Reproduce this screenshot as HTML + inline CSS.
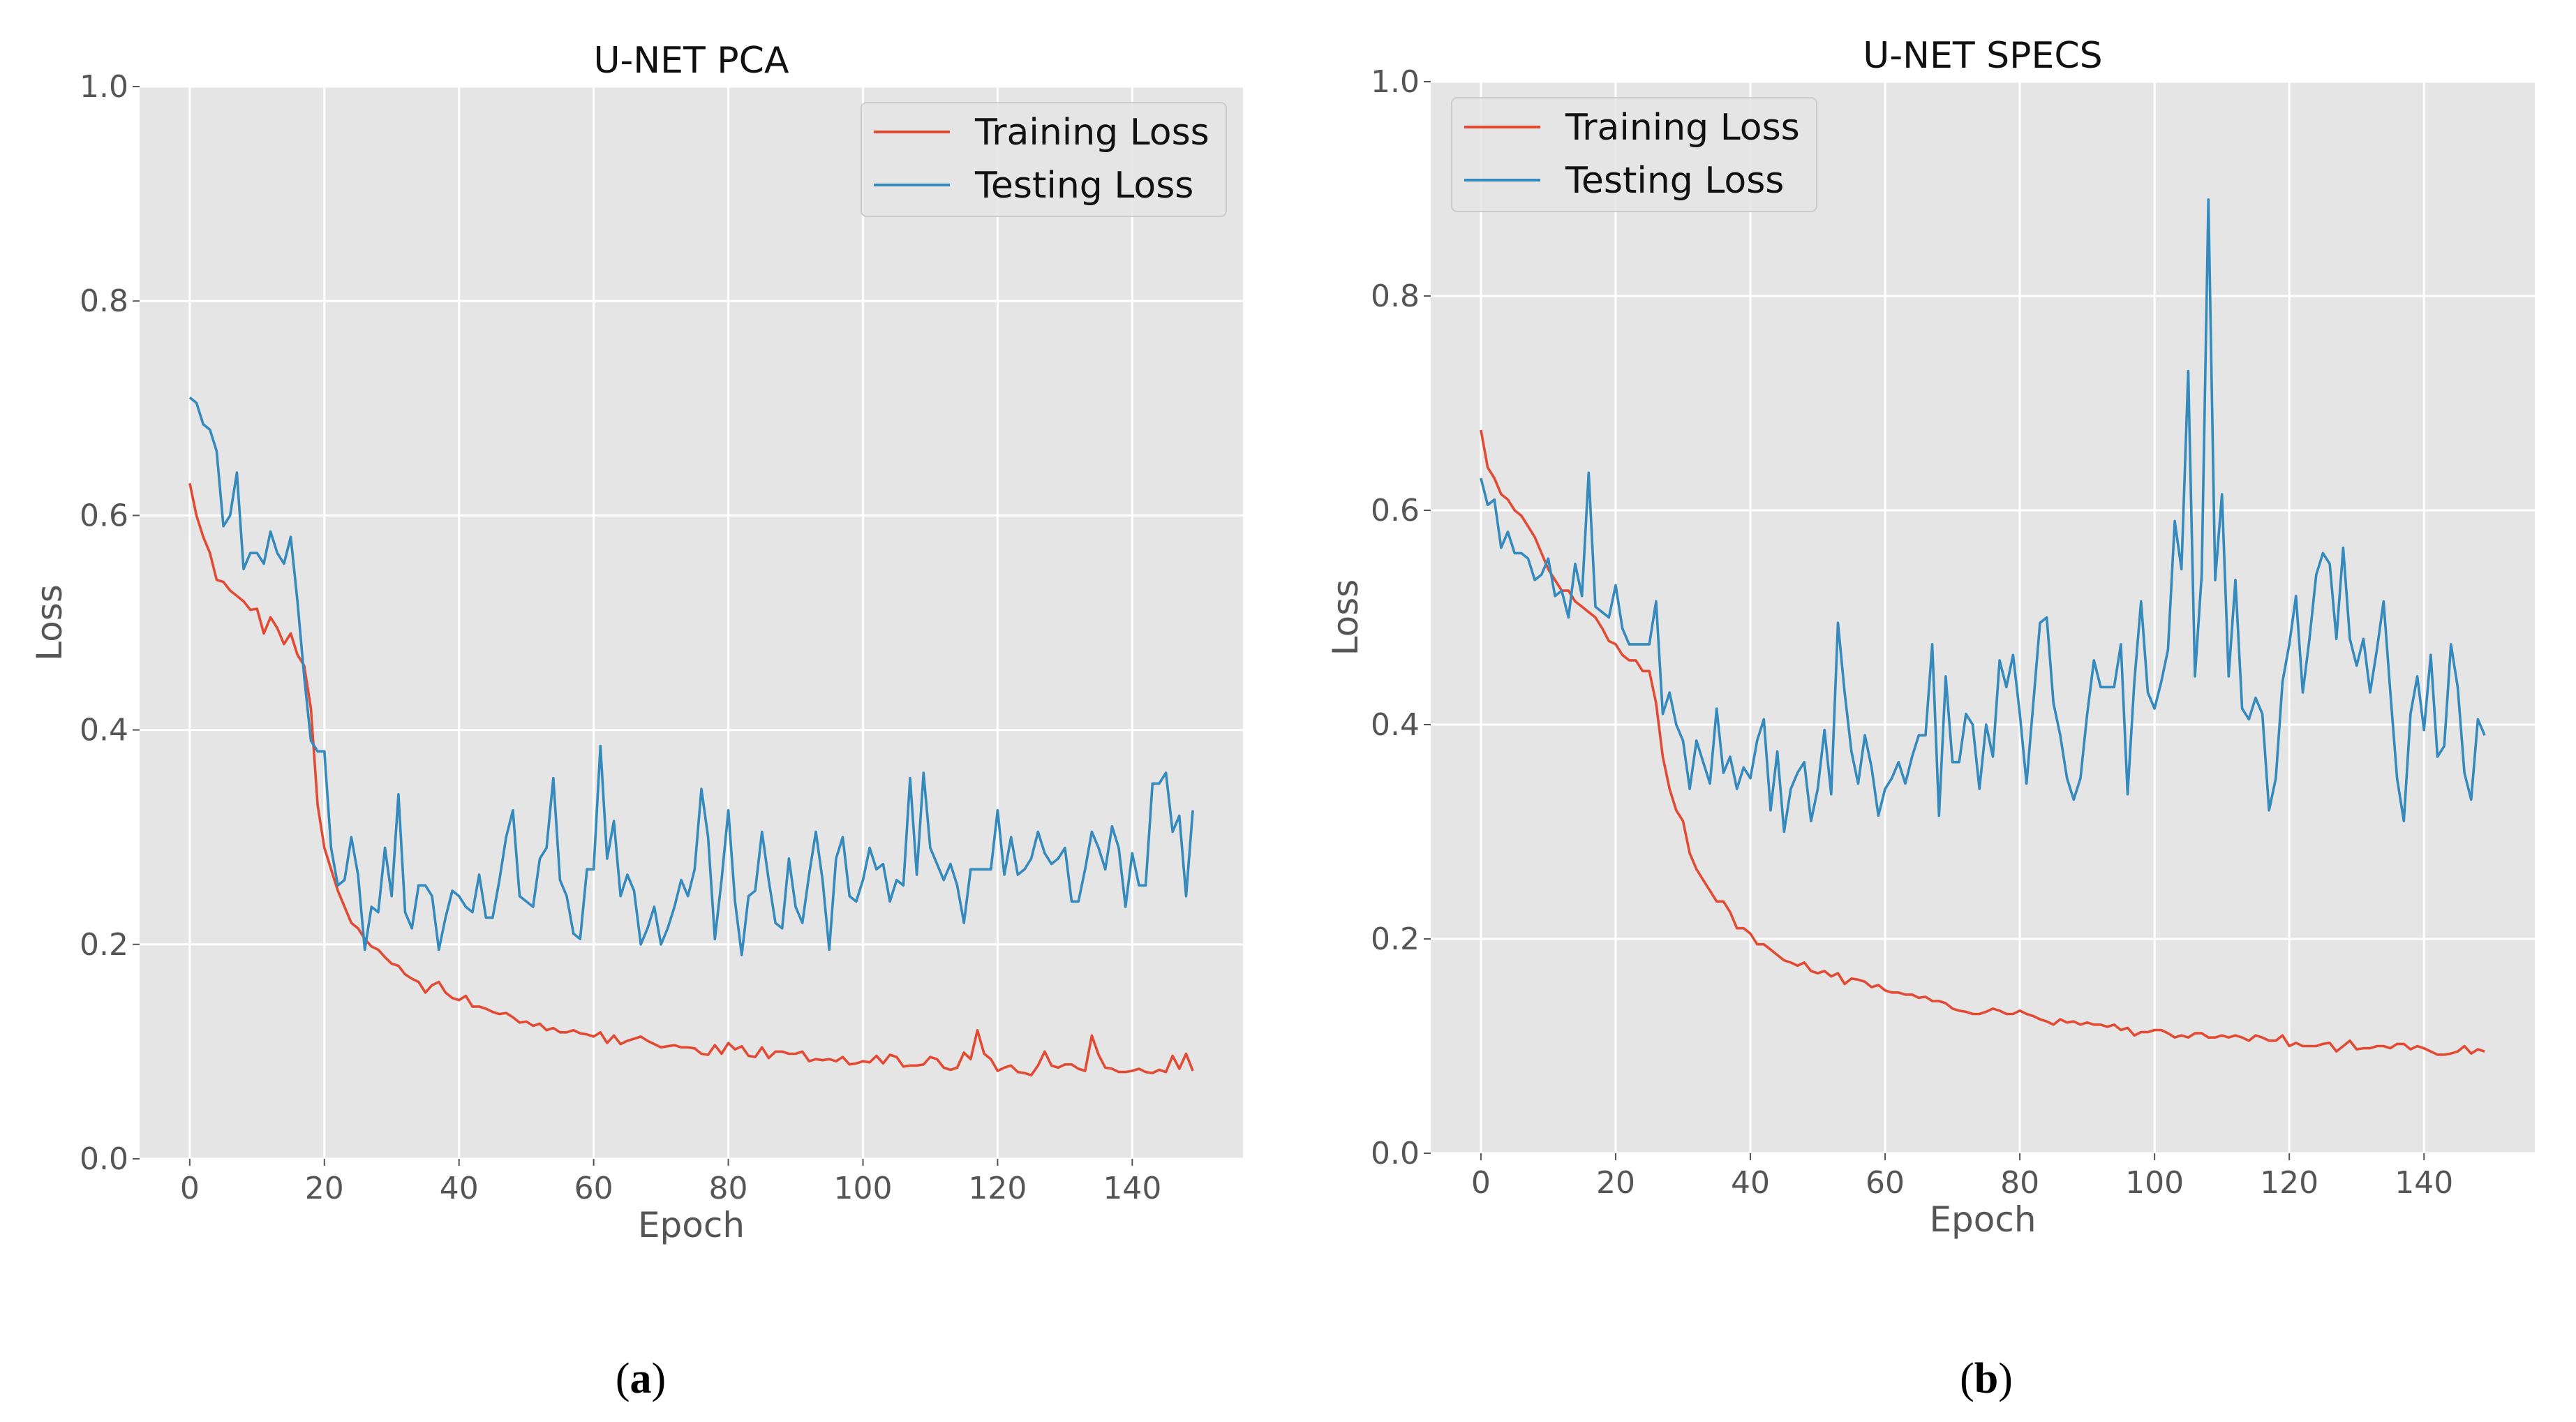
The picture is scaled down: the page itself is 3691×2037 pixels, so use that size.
<!DOCTYPE html>
<html><head><meta charset="utf-8">
<style>
html,body{margin:0;padding:0;background:#fff;}
svg{display:block;}
text{font-family:"DejaVu Sans","Liberation Sans",sans-serif;}
</style></head>
<body>
<svg id="fig" width="3691" height="2037" viewBox="0 0 3691 2037" xmlns="http://www.w3.org/2000/svg">
<rect width="3691" height="2037" fill="#ffffff"/>
<g id="chartA"></g>
<g id="chartB"></g>
<text x="918" y="1995" text-anchor="middle" font-size="62" style="font-family:'Liberation Serif',serif">(<tspan font-weight="bold">a</tspan>)</text>
<text x="2846" y="1995" text-anchor="middle" font-size="62" style="font-family:'Liberation Serif',serif">(<tspan font-weight="bold">b</tspan>)</text>
</svg>
<script>
const xTicks=[0,20,40,60,80,100,120,140];
const yTicks=[0.0,0.2,0.4,0.6,0.8,1.0];
const yTickLabels=["0.0","0.2","0.4","0.6","0.8","1.0"];
const seriesNames=["Training Loss","Testing Loss"];
const trainA=[0.63,0.60,0.58,0.565,0.54,0.538,0.53,0.525,0.52,0.512,0.513,0.49,0.505,0.495,0.48,0.49,0.47,0.46,0.42,0.33,0.29,0.27,0.25,0.235,0.22,0.215,0.205,0.198,0.195,0.188,0.182,0.18,0.172,0.168,0.165,0.155,0.162,0.165,0.155,0.15,0.148,0.152,0.142,0.142,0.14,0.137,0.135,0.136,0.132,0.127,0.128,0.124,0.126,0.12,0.122,0.118,0.118,0.12,0.117,0.116,0.114,0.118,0.108,0.115,0.107,0.11,0.112,0.114,0.11,0.107,0.104,0.105,0.106,0.104,0.104,0.103,0.098,0.097,0.106,0.098,0.108,0.102,0.105,0.096,0.095,0.104,0.094,0.1,0.1,0.098,0.098,0.1,0.091,0.093,0.092,0.093,0.091,0.095,0.088,0.089,0.091,0.09,0.096,0.089,0.097,0.095,0.086,0.087,0.087,0.088,0.095,0.093,0.085,0.083,0.085,0.099,0.093,0.12,0.098,0.093,0.082,0.085,0.087,0.081,0.08,0.078,0.087,0.1,0.087,0.085,0.088,0.088,0.084,0.082,0.115,0.097,0.085,0.084,0.081,0.081,0.082,0.084,0.081,0.08,0.083,0.081,0.096,0.084,0.098,0.082];
const testA=[0.71,0.705,0.685,0.68,0.66,0.59,0.60,0.64,0.55,0.565,0.565,0.555,0.585,0.565,0.555,0.58,0.52,0.45,0.39,0.38,0.38,0.29,0.255,0.26,0.30,0.265,0.195,0.235,0.23,0.29,0.245,0.34,0.23,0.215,0.255,0.255,0.245,0.195,0.225,0.25,0.245,0.235,0.23,0.265,0.225,0.225,0.26,0.30,0.325,0.245,0.24,0.235,0.28,0.29,0.355,0.26,0.245,0.21,0.205,0.27,0.27,0.385,0.28,0.315,0.245,0.265,0.25,0.20,0.215,0.235,0.20,0.215,0.235,0.26,0.245,0.27,0.345,0.30,0.205,0.26,0.325,0.24,0.19,0.245,0.25,0.305,0.26,0.22,0.215,0.28,0.235,0.22,0.265,0.305,0.26,0.195,0.28,0.30,0.245,0.24,0.26,0.29,0.27,0.275,0.24,0.26,0.255,0.355,0.265,0.36,0.29,0.275,0.26,0.275,0.255,0.22,0.27,0.27,0.27,0.27,0.325,0.265,0.30,0.265,0.27,0.28,0.305,0.285,0.275,0.28,0.29,0.24,0.24,0.27,0.305,0.29,0.27,0.31,0.29,0.235,0.285,0.255,0.255,0.35,0.35,0.36,0.305,0.32,0.245,0.325];
const trainB=[0.675,0.64,0.63,0.615,0.61,0.60,0.595,0.585,0.575,0.56,0.545,0.535,0.525,0.525,0.515,0.51,0.505,0.50,0.49,0.478,0.475,0.465,0.46,0.46,0.45,0.45,0.42,0.37,0.34,0.32,0.31,0.28,0.265,0.255,0.245,0.235,0.235,0.225,0.21,0.21,0.205,0.195,0.195,0.19,0.185,0.18,0.178,0.175,0.178,0.17,0.168,0.17,0.165,0.168,0.158,0.163,0.162,0.16,0.155,0.157,0.152,0.15,0.15,0.148,0.148,0.145,0.146,0.142,0.142,0.14,0.135,0.133,0.132,0.13,0.13,0.132,0.135,0.133,0.13,0.13,0.133,0.13,0.128,0.125,0.123,0.12,0.125,0.122,0.123,0.12,0.122,0.12,0.12,0.118,0.12,0.115,0.117,0.11,0.113,0.113,0.115,0.115,0.112,0.108,0.11,0.108,0.112,0.112,0.108,0.108,0.11,0.108,0.11,0.108,0.105,0.11,0.108,0.105,0.105,0.11,0.1,0.103,0.1,0.1,0.1,0.102,0.103,0.095,0.1,0.105,0.097,0.098,0.098,0.1,0.1,0.098,0.102,0.102,0.097,0.1,0.098,0.095,0.092,0.092,0.093,0.095,0.1,0.093,0.097,0.095];
const testB=[0.63,0.605,0.61,0.565,0.58,0.56,0.56,0.555,0.535,0.54,0.555,0.52,0.525,0.50,0.55,0.52,0.635,0.51,0.505,0.50,0.53,0.49,0.475,0.475,0.475,0.475,0.515,0.41,0.43,0.40,0.385,0.34,0.385,0.365,0.345,0.415,0.355,0.37,0.34,0.36,0.35,0.385,0.405,0.32,0.375,0.30,0.34,0.355,0.365,0.31,0.34,0.395,0.335,0.495,0.43,0.375,0.345,0.39,0.36,0.315,0.34,0.35,0.365,0.345,0.37,0.39,0.39,0.475,0.315,0.445,0.365,0.365,0.41,0.40,0.34,0.40,0.37,0.46,0.435,0.465,0.41,0.345,0.42,0.495,0.50,0.42,0.39,0.35,0.33,0.35,0.41,0.46,0.435,0.435,0.435,0.475,0.335,0.44,0.515,0.43,0.415,0.44,0.47,0.59,0.545,0.73,0.445,0.54,0.89,0.535,0.615,0.445,0.535,0.415,0.405,0.425,0.41,0.32,0.35,0.44,0.475,0.52,0.43,0.48,0.54,0.56,0.55,0.48,0.565,0.48,0.455,0.48,0.43,0.47,0.515,0.43,0.35,0.31,0.41,0.445,0.395,0.465,0.37,0.38,0.475,0.435,0.355,0.33,0.405,0.39];

const NS="http://www.w3.org/2000/svg";
function mk(tag,attrs,parent,txt){const e=document.createElementNS(NS,tag);for(const k in attrs)e.setAttribute(k,attrs[k]);if(txt!==undefined)e.textContent=txt;parent.appendChild(e);return e;}

function drawChart(g,cfg,train,test){
  const L=cfg.left,R=cfg.right,T=cfg.top,B=cfg.bottom;
  const xmin=-7.45,xmax=156.45;
  const sx=v=>L+(v-xmin)/(xmax-xmin)*(R-L);
  const sy=v=>B-v*(B-T);
  const bg=mk('rect',{x:L,y:T,width:R-L,height:B-T,fill:'#e5e5e5'},g);
  
  
  yTicks.forEach((v,i)=>{
    const y=sy(v);
    const gl=mk('line',{x1:L,x2:R,y1:y,y2:y,stroke:'#ffffff','stroke-width':3},g);
    
    
    mk('line',{x1:L-10,x2:L,y1:y,y2:y,stroke:'#555','stroke-width':2},g);
    const t=mk('text',{x:L-16,y:y+15,'text-anchor':'end','font-size':44,fill:'#555'},g,yTickLabels[i]);
    
    
  });
  xTicks.forEach(v=>{
    const x=sx(v);
    const gl=mk('line',{x1:x,x2:x,y1:T,y2:B,stroke:'#ffffff','stroke-width':3},g);
    
    
    mk('line',{x1:x,x2:x,y1:B,y2:B+10,stroke:'#555','stroke-width':2},g);
    const t=mk('text',{x:x,y:B+57,'text-anchor':'middle','font-size':44,fill:'#555'},g,String(v));
    
    
  });
  const mkPath=(arr,color,name)=>{
    const d=arr.slice(0,150).map((v,i)=>(i?'L':'M')+sx(i).toFixed(1)+','+sy(v).toFixed(1)).join(' ');
    const p=mk('path',{d:d,fill:'none',stroke:color,'stroke-width':3.6,'stroke-linejoin':'round'},g);
    
    
  };
  mkPath(train,'#e24a33','training-loss-line');
  mkPath(test,'#348abd','testing-loss-line');
  const tt=mk('text',{x:(L+R)/2,y:T-20,'text-anchor':'middle','font-size':52,fill:'#111'},g,cfg.title);
  
  
  const xl=mk('text',{x:(L+R)/2,y:B+112,'text-anchor':'middle','font-size':50,fill:'#555'},g,'Epoch');
  
  
  const yx=cfg.ylabX, yy=(T+B)/2;
  const yl=mk('text',{x:yx,y:yy,'text-anchor':'middle','font-size':50,fill:'#555',transform:'rotate(-90 '+yx+' '+yy+')'},g,'Loss');
  
  
  const lg=mk('g',{},g);
  
  
  mk('rect',{x:cfg.legX,y:cfg.legY,width:523,height:163,rx:8,fill:'#e5e5e5',stroke:'#cccccc','stroke-width':2,'fill-opacity':0.85},lg);
  const cols=['#e24a33','#348abd'];
  seriesNames.forEach((n,i)=>{
    const ly=cfg.legY+42+i*76;
    const ln=mk('line',{x1:cfg.legX+18,x2:cfg.legX+127,y1:ly,y2:ly,stroke:cols[i],'stroke-width':4},lg);
    
    
    const t=mk('text',{x:cfg.legX+163,y:ly+18,'font-size':52,fill:'#111'},lg,n);
    
    
  });
}
drawChart(document.getElementById('chartA'),{left:200,right:1781,top:124,bottom:1660,title:'U-NET PCA',ylabX:88,legX:1234,legY:147},trainA,testA);
drawChart(document.getElementById('chartB'),{left:2050,right:3632,top:117,bottom:1652,title:'U-NET SPECS',ylabX:1945,legX:2080,legY:140},trainB,testB);
</script>
</body></html>
